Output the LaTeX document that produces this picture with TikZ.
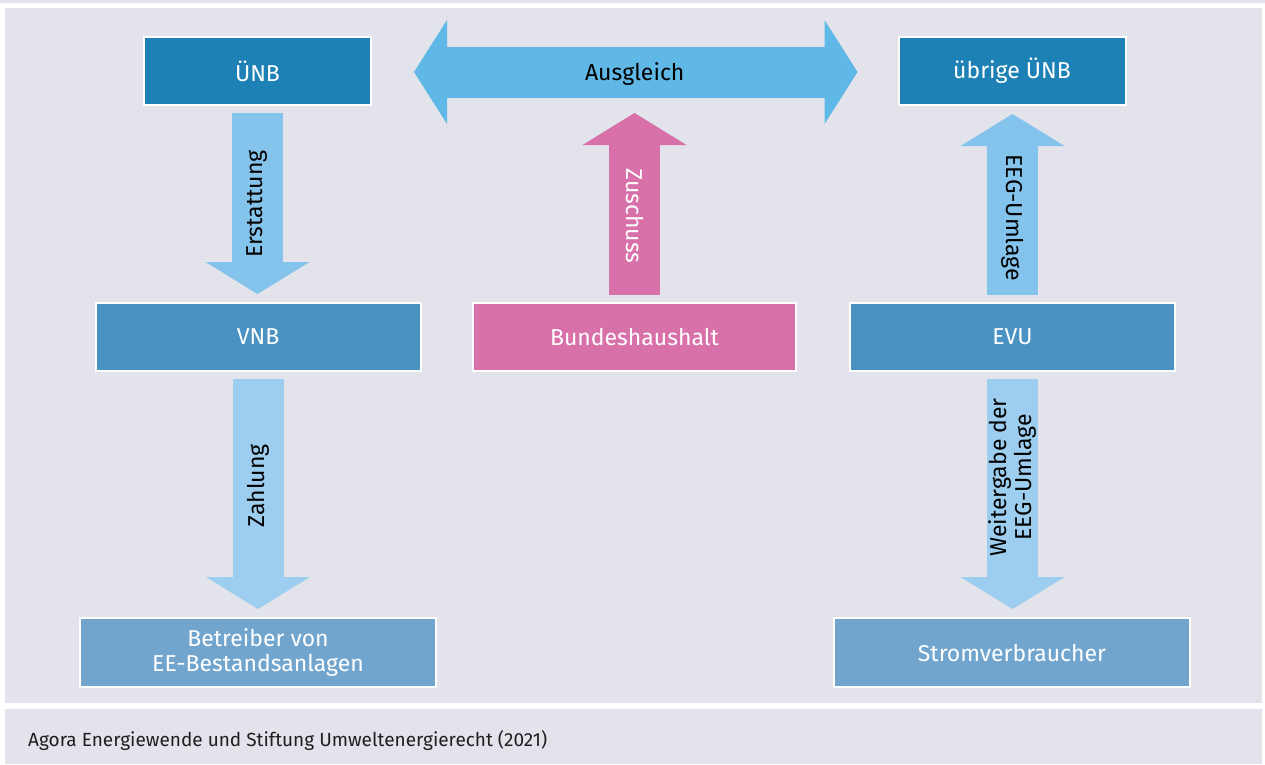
\documentclass[tikz,border=0pt]{standalone}
\usepackage{fontspec}
\setmainfont{Fira Sans}
\usepackage{xcolor}
\usepackage{tikz}
\usetikzlibrary{arrows.meta}

\definecolor{panelgray}{HTML}{E2E3EB}
\definecolor{uenbblue}{HTML}{1D81B5}
\definecolor{midblue}{HTML}{4A92C1}
\definecolor{lowblue}{HTML}{72A5CD}
\definecolor{budgetpink}{HTML}{D870A9}
\definecolor{swapblue}{HTML}{60B8E6}
\definecolor{flowblue}{HTML}{84C3EC}
\definecolor{paleblue}{HTML}{9DCEEF}
\definecolor{notegray}{HTML}{1F1F1F}

\begin{document}
\begin{tikzpicture}[x=1pt, y=-1pt,
    box/.style={draw=white, line width=2pt, inner sep=0pt, text=white, align=center,
        minimum height=68pt, font=\fontsize{23}{25}\selectfont},
    flow/.style={line width=51pt, shorten <=7pt, shorten >=8pt,
        -{Triangle[width=104pt, length=32pt, line width=0pt]}},
    lbl/.style={font=\fontsize{23}{25}\selectfont, align=center, inner sep=0pt}]

    % Background
    \useasboundingbox (0,0) rectangle (1265,764);
    \fill[white] (0,0) rectangle (1265,764);
    \fill[panelgray] (0,0) rectangle (1265,3);
    \fill[panelgray] (5,8) rectangle (1262,703);
    \fill[panelgray] (5,709) rectangle (1262,764);

    % Boxes
    \node[box, fill=uenbblue, minimum width=227pt] (uenb) at (257.5,71) {ÜNB};
    \node[box, fill=uenbblue, minimum width=227pt] (uebrig) at (1012,71) {übrige ÜNB};
    \node[box, fill=midblue, minimum width=325pt] (vnb) at (258,337) {VNB};
    \node[box, fill=budgetpink, minimum width=323pt] (bund) at (634.5,337) {Bundeshaushalt};
    \node[box, fill=midblue, minimum width=325pt] (evu) at (1012.5,337) {EVU};
    \node[box, fill=lowblue, minimum width=356pt, minimum height=69pt] (betreiber) at (258,652.5)
        {Betreiber von\\EE-Bestandsanlagen};
    \node[box, fill=lowblue, minimum width=356pt, minimum height=69pt] (strom) at (1012,652.5)
        {Stromverbraucher};

    % Arrows
    \coordinate (zuschussTip) at (634.5,113);
    \draw[line width=51pt, shorten <=42pt, shorten >=40pt, swapblue,
        {Triangle[width=104pt, length=33pt, line width=0pt]}-{Triangle[width=104pt, length=33pt, line width=0pt]}]
        ([yshift=-1pt]uenb.east) -- ([yshift=-1pt]uebrig.west)
        node[lbl, midway, yshift=-2pt, text=black] {Ausgleich};
    \draw[flow, flowblue] (uenb.south) -- (uenb.south |- vnb.north)
        node[lbl, midway, rotate=90, text=black] {Erstattung};
    \draw[flow, paleblue] (vnb.south) -- (vnb.south |- betreiber.north)
        node[lbl, pos=0.465, rotate=90, text=black] {Zahlung};
    \draw[flow, budgetpink, shorten >=0pt] (bund.north) -- (zuschussTip)
        node[lbl, pos=0.455, rotate=-90, text=white] {Zuschuss};
    \draw[flow, flowblue] (evu.north) -- (evu.north |- uebrig.south)
        node[lbl, pos=0.43, rotate=-90, text=black] {EEG-Umlage};
    \draw[flow, paleblue] (evu.south) -- (evu.south |- strom.north)
        node[lbl, pos=0.43, rotate=90, text=black] {Weitergabe der\\EEG-Umlage};

    % Source
    \node[anchor=west, inner sep=0pt, text=notegray, font=\fontsize{19}{22}\selectfont]
        (quelle) at (28,740) {Agora Energiewende und Stiftung Umweltenergierecht (2021)};

\end{tikzpicture}
\end{document}
